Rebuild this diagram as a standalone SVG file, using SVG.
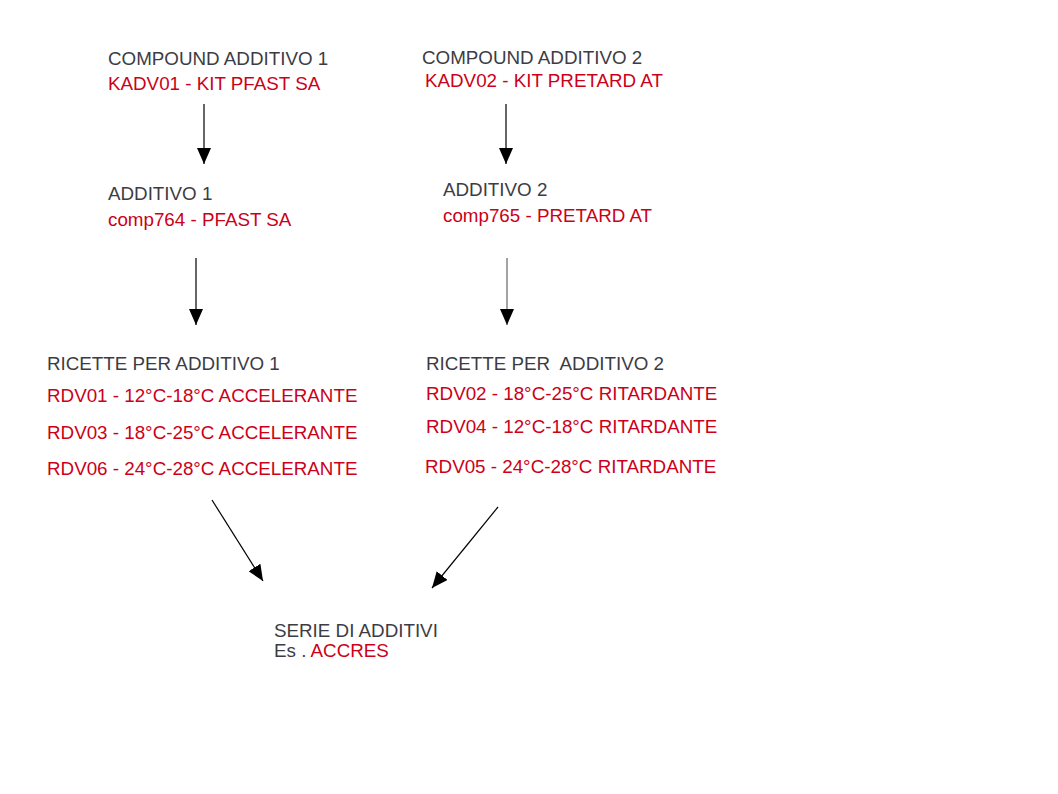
<svg xmlns="http://www.w3.org/2000/svg" width="1058" height="794" viewBox="0 0 1058 794">
<defs>
<style>
text{font-family:"Liberation Sans",Arial,sans-serif;font-size:18.8px}
.h{fill:#3c3c44}
.r{fill:#cc0018}
.c{stroke:#000;stroke-width:1.2;fill:none;marker-end:url(#ah)}
</style>
<marker id="ah" markerUnits="userSpaceOnUse" markerWidth="18" markerHeight="14" refX="16" refY="7" orient="auto">
<path d="M0,0 L16,7 L0,14 Z" fill="#000"/>
</marker>
</defs>
<rect width="1058" height="794" fill="#fff"/>
<g id="n1"><text x="108" y="65" class="h">COMPOUND ADDITIVO 1</text><text x="108" y="90" class="r">KADV01 - KIT PFAST SA</text></g>
<g id="n2"><text x="422" y="64" class="h">COMPOUND ADDITIVO 2</text><text x="425" y="87" class="r">KADV02 - KIT PRETARD AT</text></g>
<g id="n3"><text x="108" y="200" class="h">ADDITIVO 1</text><text x="108" y="226" class="r">comp764 - PFAST SA</text></g>
<g id="n4"><text x="443" y="196" class="h">ADDITIVO 2</text><text x="443" y="222" class="r">comp765 - PRETARD AT</text></g>
<g id="n5"><text x="47" y="370" class="h">RICETTE PER ADDITIVO 1</text><text x="47" y="402" class="r">RDV01 - 12°C-18°C ACCELERANTE</text><text x="47" y="439" class="r">RDV03 - 18°C-25°C ACCELERANTE</text><text x="47" y="475" class="r">RDV06 - 24°C-28°C ACCELERANTE</text></g>
<g id="n6"><text x="426" y="370" class="h" xml:space="preserve">RICETTE PER  ADDITIVO 2</text><text x="426" y="400" class="r">RDV02 - 18°C-25°C RITARDANTE</text><text x="426" y="433" class="r">RDV04 - 12°C-18°C RITARDANTE</text><text x="425" y="473" class="r">RDV05 - 24°C-28°C RITARDANTE</text></g>
<g id="n7"><text x="274" y="637" class="h">SERIE DI ADDITIVI</text><text x="274" y="657"><tspan class="h">Es . </tspan><tspan class="r">ACCRES</tspan></text></g>
<g id="connectors">
<path class="c" d="M204,104 L204,164"/>
<path class="c" d="M506,104 L506,164"/>
<path class="c" d="M196,258 L196,325"/>
<path class="c" d="M507,258 L507,325" style="stroke:#666"/>
<path class="c" d="M212,500 L263,581"/>
<path class="c" d="M498,507 L432,588"/>
</g>
</svg>
